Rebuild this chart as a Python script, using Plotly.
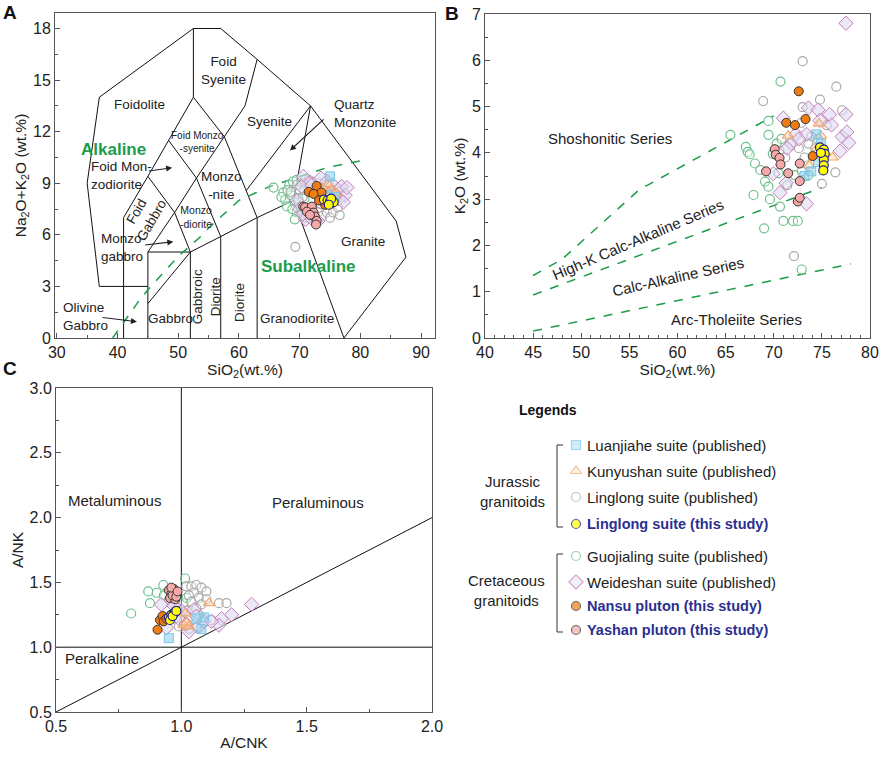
import plotly.graph_objects as go

W, H = 879, 759
FONT = "Arial, Liberation Sans, sans-serif"
TXT = "#222222"
GREEN = "#1a9c4a"
STUDY = "#2b2f8f"

# ---------------- Panel A : TAS (SiO2 vs Na2O+K2O) ----------------
tas_boundaries = [
    [(41, 0), (41, 3), (37, 3), (35, 9), (37, 14), (52.5, 18), (57, 18), (63, 16.2),
     (71.8, 13.5), (85.9, 6.8), (87.5, 4.7), (77.3, 0)],
    [(41, 3), (41, 7), (45, 9.4), (48.4, 11.5), (52.5, 14), (52.5, 18)],
    [(41, 3), (45, 3)],
    [(45, 0), (45, 5), (52, 5)],
    [(45, 2), (52, 5)],
    [(52, 0), (52, 5), (57, 5.9), (63, 7), (69, 8)],
    [(57, 0), (57, 5.9)],
    [(63, 0), (63, 7)],
    [(45, 9.4), (49.4, 7.3), (52, 5)],
    [(48.4, 11.5), (53, 9.3), (57, 5.9)],
    [(52.5, 14), (57.6, 11.7), (63, 7)],
    [(45, 5), (49.4, 7.3), (53, 9.3), (57.6, 11.7), (61, 13.5), (63, 16.2)],
    [(61.2, 8.57), (71.8, 13.5), (69, 8), (77.3, 0)],
]
irvine_sio2 = [39.2, 40, 43.2, 45, 48, 50, 53.7, 55, 60, 65, 74.4, 80]
irvine_alk = [0, 0.4, 2, 2.8, 4, 4.75, 5.9, 6.4, 8.0, 8.8, 9.9, 10.3]

# series values in panel A
guo_tas_sio2 = [65.7, 67.3, 67.6, 67.9, 68.3, 68.9, 69.5, 68.6, 69.2, 69.5, 69.2, 70.0, 70.3, 68.0, 68.8, 70.5, 70.8, 71.0, 69.8, 67.0]
guo_tas_alk = [8.75, 8.45, 8.05, 7.65, 8.9, 9.1, 9.2, 8.3, 7.9, 7.3, 6.9, 8.6, 7.6, 8.6, 7.5, 9.0, 8.1, 7.0, 8.1, 8.2]
llp_tas_sio2 = [68.5, 69.5, 70.5, 71.0, 72.5, 73.0, 73.8, 74.5, 75.0, 75.5, 76.6, 74.0, 73.3, 72.0, 76.0, 75.8, 74.5, 69.3, 71.5, 73.5, 70.8, 76.3]
llp_tas_alk = [8.5, 8.9, 8.2, 7.4, 7.0, 7.3, 7.1, 7.3, 7.0, 7.3, 7.15, 8.6, 9.0, 9.1, 8.0, 8.6, 8.9, 5.3, 9.2, 7.8, 8.6, 7.6]
wei_tas_sio2 = [70.6, 71.5, 69.5, 70.0, 70.3, 71.0, 72.0, 73.5, 74.5, 75.5, 76.3, 76.9, 77.5, 77.8, 76.5, 77.2, 75.8, 71.8, 73.0, 70.5]
wei_tas_alk = [9.4, 9.0, 8.0, 7.5, 8.8, 6.9, 8.9, 9.3, 9.1, 8.9, 8.6, 8.8, 8.3, 8.75, 8.1, 7.9, 8.3, 7.0, 6.8, 7.2]
kun_tas_sio2 = [74.7, 75.2, 73.8, 76.0]
kun_tas_alk = [8.95, 8.6, 8.7, 8.4]
lua_tas_sio2 = [75.0, 74.5, 75.8]
lua_tas_alk = [9.4, 8.3, 8.2]
yas_tas_sio2 = [70.6, 70.9, 72.0, 71.2, 72.3, 72.5, 72.8, 72.7, 71.7]
yas_tas_alk = [7.64, 7.6, 7.64, 7.35, 7.29, 7.06, 6.81, 6.6, 7.16]
nan_tas_sio2 = [71.5, 72.8, 73.6, 72.3, 74.2, 73.2]
nan_tas_alk = [8.5, 8.84, 8.46, 8.38, 7.74, 8.0]
llt_tas_sio2 = [74.0, 74.6, 75.0, 75.3, 75.6, 75.2, 74.8]
llt_tas_alk = [8.05, 8.0, 7.95, 7.85, 7.9, 8.1, 7.75]

# ---------------- Panel B : SiO2 vs K2O ----------------
shosho_sio2 = [45, 48, 56, 70]
shosho_k2o = [1.35, 1.7, 3.2, 4.8]
highk_sio2 = [45, 75]
highk_k2o = [0.93, 3.25]
calc_sio2 = [45, 78]
calc_k2o = [0.15, 1.6]

guo_b_sio2 = [65.5, 67.1, 67.3, 67.5, 68.05, 69.45, 69.45, 67.9, 69.1, 69.0, 69.45, 69.6, 70.7, 70.5, 70.65, 71.0, 72.0, 72.5, 72.9, 72.2, 68.6, 73.6, 69.9, 70.3, 70.8, 71.4]
guo_b_k2o = [4.39, 4.13, 4.02, 3.97, 3.77, 4.69, 4.39, 3.09, 3.38, 2.37, 3.27, 3.0, 5.54, 3.56, 2.84, 2.53, 2.53, 2.53, 1.48, 3.52, 3.63, 3.52, 3.98, 4.2, 4.3, 3.3]
llp_b_sio2 = [68.9, 73.0, 76.5, 74.8, 73.0, 72.1, 75.0, 76.4, 77.1, 72.85, 71.8, 73.9, 74.3, 73.2, 72.6, 71.2, 72.9, 74.6, 75.5, 70.6, 73.6]
llp_b_k2o = [5.12, 5.98, 5.43, 5.15, 4.99, 1.77, 3.33, 3.58, 4.92, 4.65, 4.2, 4.35, 4.1, 3.9, 4.1, 3.9, 3.6, 4.3, 4.6, 4.05, 4.2]
wei_b_sio2 = [77.5, 71.0, 73.6, 74.6, 75.8, 77.5, 77.1, 77.6, 77.8, 76.9, 71.8, 71.4, 72.3, 73.4, 70.65, 71.3, 73.4, 69.95, 74.8, 76.0, 72.6]
wei_b_k2o = [6.8, 4.75, 4.97, 4.93, 4.83, 4.83, 4.35, 4.45, 4.22, 4.04, 4.2, 4.1, 4.4, 4.4, 3.14, 3.35, 2.9, 3.55, 4.7, 4.6, 4.3]
kun_b_sio2 = [71.5, 74.7, 74.9, 76.1, 73.7, 74.5]
kun_b_k2o = [4.37, 4.63, 4.37, 3.9, 3.73, 4.1]
lua_b_sio2 = [74.4, 74.9, 73.2, 73.9, 74.6]
lua_b_k2o = [4.4, 4.2, 3.5, 3.6, 3.8]
yas_b_sio2 = [69.2, 70.1, 70.2, 70.6, 70.7, 71.5, 72.7, 72.7, 72.5, 72.7]
yas_b_k2o = [3.6, 4.08, 3.96, 3.89, 3.75, 3.56, 3.77, 3.39, 2.95, 3.03]
nan_b_sio2 = [72.6, 71.3, 72.2, 73.3, 74.05]
nan_b_k2o = [5.33, 4.65, 4.6, 4.73, 3.93]
llt_b_sio2 = [74.8, 75.2, 75.3, 75.2, 75.2, 75.15, 74.9]
llt_b_k2o = [4.12, 4.07, 3.98, 3.85, 3.73, 3.62, 4.0]

# ---------------- Panel C : A/CNK vs A/NK ----------------
guo_c_acnk = [0.80, 0.868, 0.928, 0.902, 0.875, 1.015, 1.008, 1.021, 0.95, 0.93]
guo_c_ank = [1.26, 1.43, 1.48, 1.42, 1.34, 1.53, 1.34, 1.38, 1.37, 1.40]
llp_c_acnk = [1.02, 1.04, 1.06, 1.08, 1.10, 1.05, 1.03, 1.07, 1.10, 1.04, 1.08, 1.15, 1.18, 1.06, 1.02, 1.12, 1.09, 1.06, 1.03, 1.07, 0.99, 1.01]
llp_c_ank = [1.47, 1.47, 1.48, 1.46, 1.43, 1.42, 1.40, 1.38, 1.37, 1.35, 1.33, 1.34, 1.34, 1.30, 1.28, 1.21, 1.19, 1.15, 1.14, 1.25, 1.16, 1.20]
wei_c_acnk = [1.28, 1.20, 1.16, 1.15, 1.05, 1.03, 0.94, 0.92, 0.96, 1.00, 1.07, 1.09, 1.06, 0.99, 1.02, 0.97, 1.12]
wei_c_ank = [1.33, 1.25, 1.22, 1.17, 1.29, 1.12, 1.15, 1.33, 1.36, 1.28, 1.16, 1.20, 1.24, 1.22, 1.18, 1.32, 1.20]
kun_c_acnk = [1.11, 1.015, 1.01, 1.03, 1.02]
kun_c_ank = [1.34, 1.26, 1.17, 1.16, 1.19]
lua_c_acnk = [0.95, 1.09, 1.06, 1.08]
lua_c_ank = [1.07, 1.23, 1.22, 1.14]
yas_c_acnk = [0.95, 0.97, 0.96, 0.98, 0.955, 0.975, 0.965, 0.98, 0.96, 0.985]
yas_c_ank = [1.44, 1.45, 1.41, 1.42, 1.38, 1.37, 1.40, 1.39, 1.46, 1.43]
nan_c_acnk = [0.915, 0.925, 0.93, 0.905, 0.94]
nan_c_ank = [1.21, 1.24, 1.20, 1.135, 1.22]
llt_c_acnk = [0.95, 0.96, 0.97, 0.975, 0.955, 0.965, 0.98]
llt_c_ank = [1.23, 1.25, 1.26, 1.27, 1.21, 1.24, 1.28]
acnk_boundaries = [[(1, 0.5), (1, 3.0)], [(0.5, 1), (2.0, 1)], [(0.5, 0.5), (2.0, 2.0)]]

# ---------------- series styles & legend ----------------
series_names = ["Luanjiahe suite (published)", "Kunyushan suite (published)",
                "Linglong suite (published)", "Linglong suite (this study)",
                "Guojialing suite (published)", "Weideshan suite (published)",
                "Nansu pluton (this study)", "Yashan pluton (this study)"]
styles = {
    "lua": dict(symbol="square", size=9, color="rgba(135,206,235,0.55)", line=dict(color="#79c6ea", width=1)),
    "kun": dict(symbol="triangle-up", size=10, color="rgba(250,205,160,0.35)", line=dict(color="#f3a868", width=1.2)),
    "llp": dict(symbol="circle", size=9, color="rgba(255,255,255,0.35)", line=dict(color="#a9a9a9", width=1.2)),
    "llt": dict(symbol="circle", size=9, color="#ffff00", line=dict(color="#1f1f8f", width=1.2)),
    "guo": dict(symbol="circle", size=9, color="rgba(255,255,255,0.3)", line=dict(color="#6cc08c", width=1.2)),
    "wei": dict(symbol="diamond", size=11, color="rgba(222,218,242,0.6)", line=dict(color="#c87db6", width=1)),
    "nan": dict(symbol="circle", size=9, color="#f07c12", line=dict(color="#333333", width=1)),
    "yas": dict(symbol="circle", size=9, color="#f5a9a9", line=dict(color="#333333", width=1)),
}
legend_keys = ["lua", "kun", "llp", "llt", "guo", "wei", "nan", "yas"]
legend_rows_px = [445, 471, 497, 524, 556, 582, 606, 630]
draw_order = ["guo", "llp", "wei", "kun", "lua", "yas", "nan", "llt"]

panelA = {"guo": (guo_tas_sio2, guo_tas_alk), "llp": (llp_tas_sio2, llp_tas_alk),
          "wei": (wei_tas_sio2, wei_tas_alk), "kun": (kun_tas_sio2, kun_tas_alk),
          "lua": (lua_tas_sio2, lua_tas_alk), "yas": (yas_tas_sio2, yas_tas_alk),
          "nan": (nan_tas_sio2, nan_tas_alk), "llt": (llt_tas_sio2, llt_tas_alk)}
panelB = {"guo": (guo_b_sio2, guo_b_k2o), "llp": (llp_b_sio2, llp_b_k2o),
          "wei": (wei_b_sio2, wei_b_k2o), "kun": (kun_b_sio2, kun_b_k2o),
          "lua": (lua_b_sio2, lua_b_k2o), "yas": (yas_b_sio2, yas_b_k2o),
          "nan": (nan_b_sio2, nan_b_k2o), "llt": (llt_b_sio2, llt_b_k2o)}
panelC = {"guo": (guo_c_acnk, guo_c_ank), "llp": (llp_c_acnk, llp_c_ank),
          "wei": (wei_c_acnk, wei_c_ank), "kun": (kun_c_acnk, kun_c_ank),
          "lua": (lua_c_acnk, lua_c_ank), "yas": (yas_c_acnk, yas_c_ank),
          "nan": (nan_c_acnk, nan_c_ank), "llt": (llt_c_acnk, llt_c_ank)}

fig = go.Figure()

def add_line(pts, xa, ya, **kw):
    fig.add_trace(go.Scatter(x=[p[0] for p in pts], y=[p[1] for p in pts], mode="lines",
                             line=kw.get("line", dict(color="#111111", width=1)),
                             xaxis=xa, yaxis=ya, hoverinfo="skip", showlegend=False))

# Panel A lines
for pts in tas_boundaries:
    add_line(pts, "x", "y")
add_line(list(zip(irvine_sio2, irvine_alk)), "x", "y",
         line=dict(color=GREEN, width=1.5, dash="dash"))
# Panel B lines
dl = dict(color=GREEN, width=1.5, dash="dash")
add_line(list(zip(shosho_sio2, shosho_k2o)), "x2", "y2", line=dl)
add_line(list(zip(highk_sio2, highk_k2o)), "x2", "y2", line=dl)
add_line(list(zip(calc_sio2, calc_k2o)), "x2", "y2", line=dl)
# Panel C lines
for pts in acnk_boundaries:
    add_line(pts, "x3", "y3")

# data points
for panel, xa, ya in [(panelA, "x", "y"), (panelB, "x2", "y2"), (panelC, "x3", "y3")]:
    for k in draw_order:
        xs, ys = panel[k]
        fig.add_trace(go.Scatter(x=xs, y=ys, mode="markers", marker=styles[k],
                                 xaxis=xa, yaxis=ya, name=series_names[legend_keys.index(k)],
                                 showlegend=False))

# legend markers on an overlay pixel axis
fig.add_trace(go.Scatter(
    x=[576] * len(legend_keys), y=legend_rows_px, mode="markers",
    marker=dict(symbol=[styles[k]["symbol"] for k in legend_keys],
                size=[styles[k]["size"] for k in legend_keys],
                color=[styles[k]["color"] for k in legend_keys],
                line=dict(color=[styles[k]["line"]["color"] for k in legend_keys], width=1.2)),
    xaxis="x4", yaxis="y4", showlegend=False, hoverinfo="skip"))

ann = []
def txt(x, y, s, xr="x", yr="y", size=13.5, color=TXT, bold=False, angle=0, xanchor="center", align="center"):
    if bold:
        s = "<b>" + s + "</b>"
    ann.append(dict(x=x, y=y, xref=xr, yref=yr, text=s, showarrow=False, textangle=angle,
                    font=dict(size=size, color=color, family=FONT), xanchor=xanchor, align=align))

def arrow(x0, y0, x1, y1):
    ann.append(dict(x=x1, y=y1, ax=x0, ay=y0, xref="x", yref="y", axref="x", ayref="y", text="",
                    font=dict(size=10), showarrow=True, arrowhead=2, arrowsize=1.1,
                    arrowwidth=1.1, arrowcolor="#222"))

# Panel A labels
txt(43.7, 13.6, "Foidolite")
txt(57.45, 15.56, "Foid<br>Syenite")
txt(65.1, 12.6, "Syenite")
txt(75.4, 13.08, "Quartz<br>Monzonite", xanchor="left", align="left")
txt(53.1, 11.4, "Foid Monzo<br>-syenite", size=10)
txt(39.35, 10.95, "Alkaline", size=17, color=GREEN, bold=True)
txt(35.3, 9.45, "Foid Mon-<br>zodiorite", xanchor="left", align="left")
txt(57.2, 8.85, "Monzo<br>-nite")
txt(52.85, 7.06, "Monzo<br>-diorite", size=10.5)
txt(44.5, 7.1, "Foid<br>Gabbro", angle=-60)
txt(37.0, 5.27, "Monzo-<br>gabbro", xanchor="left", align="left")
txt(30.75, 1.26, "Olivine<br>Gabbro", xanchor="left", align="left")
txt(48.7, 1.16, "Gabbro")
txt(54.7, 2.42, "Gabbroic<br>Diorite", angle=-90)
txt(60.2, 2.05, "Diorite", angle=-90)
txt(69.5, 1.16, "Granodiorite")
txt(80.5, 5.59, "Granite")
txt(71.45, 4.16, "Subalkaline", size=17, color=GREEN, bold=True)
arrow(44.9, 9.7, 49.0, 9.9)
arrow(44.3, 5.4, 49.2, 5.6)
arrow(37.3, 1.2, 43.2, 0.95)
arrow(74.2, 12.8, 68.4, 10.9)

# Panel B labels
txt(53.0, 4.31, "Shoshonitic Series", xr="x2", yr="y2", size=15)
txt(55.9, 2.12, "High-K Calc-Alkaline Series", xr="x2", yr="y2", size=15, angle=-23)
txt(60.1, 1.32, "Calc-Alkaline Series", xr="x2", yr="y2", size=15, angle=-12.5)
txt(66.15, 0.39, "Arc-Tholeiite Series", xr="x2", yr="y2", size=15)

# Panel C labels
txt(0.735, 2.13, "Metaluminous", xr="x3", yr="y3", size=15)
txt(1.546, 2.115, "Peraluminous", xr="x3", yr="y3", size=15)
txt(0.682, 0.914, "Peralkaline", xr="x3", yr="y3", size=15)

# panel letters
txt(10, 12, "A", xr="x4", yr="y4", size=19, color="#111", bold=True)
txt(452, 13, "B", xr="x4", yr="y4", size=19, color="#111", bold=True)
txt(10, 368, "C", xr="x4", yr="y4", size=19, color="#111", bold=True)

# legend texts
txt(548, 410, "Legends", xr="x4", yr="y4", size=14, color="#111", bold=True)
for k, ypx in zip(legend_keys, legend_rows_px):
    name = series_names[legend_keys.index(k)]
    study = "this study" in name
    txt(585, ypx, name, xr="x4", yr="y4", size=15 if not study else 14.5,
        color=STUDY if study else TXT, bold=study, xanchor="left")
txt(547, 491, "Jurassic<br>granitoids", xr="x4", yr="y4", size=15, xanchor="right", align="center")
txt(547, 590, "Cretaceous<br>granitoids", xr="x4", yr="y4", size=15, xanchor="right", align="center")

shapes = []
for y0, y1 in [(445, 527), (554, 632)]:
    for seg in [((563, y0), (557, y0)), ((557, y0), (557, y1)), ((557, y1), (563, y1))]:
        shapes.append(dict(type="line", xref="x4", yref="y4", x0=seg[0][0], y0=seg[0][1],
                           x1=seg[1][0], y1=seg[1][1], line=dict(color="#555", width=1.2)))

def ax_style(dom, rng, t0, dtick, mdtick, title, anchor, fmt=None):
    d = dict(domain=dom, range=rng, tick0=t0, dtick=dtick, automargin=False,
             showline=True, linecolor="#555", linewidth=1, mirror=True,
             ticks="inside", ticklen=5, tickcolor="#555", showgrid=False, zeroline=False,
             tickfont=dict(size=16, color=TXT, family=FONT),
             minor=dict(tick0=t0, dtick=mdtick, ticks="inside", ticklen=3, tickcolor="#555", showgrid=False),
             title=dict(text=title, font=dict(size=15.5, color=TXT, family=FONT), standoff=2),
             anchor=anchor)
    if fmt:
        d["tickformat"] = fmt
    return d

def px_dom_x(a, b):
    return [a / W, b / W]

def px_dom_y(top, bot):
    return [1 - bot / H, 1 - top / H]

xA = ax_style(px_dom_x(55, 435), [29.7, 92.3], 30, 10, 5, "SiO<sub>2</sub>(wt.%)", "y")
yA = ax_style(px_dom_y(13, 338), [0, 18.9], 0, 3, 1.5, "Na<sub>2</sub>O+K<sub>2</sub>O (wt.%)", "x")
xB = ax_style(px_dom_x(485, 870), [40, 80], 40, 5, 1, "SiO<sub>2</sub>(wt.%)", "y2")
yB = ax_style(px_dom_y(14, 338), [0, 7], 0, 1, 0.5, "K<sub>2</sub>O (wt.%)", "x2")
xC = ax_style(px_dom_x(56, 432), [0.5, 2.0], 0.5, 0.5, 0.25, "A/CNK", "y3", fmt=".1f")
yC = ax_style(px_dom_y(388, 712), [0.5, 3.0], 0.5, 0.5, 0.25, "A/NK", "x3", fmt=".1f")

fig.update_layout(
    width=W, height=H, margin=dict(l=0, r=0, t=0, b=0, autoexpand=False),
    paper_bgcolor="white", plot_bgcolor="rgba(0,0,0,0)",
    font=dict(family=FONT, color=TXT),
    xaxis=xA, yaxis=yA, xaxis2=xB, yaxis2=yB, xaxis3=xC, yaxis3=yC,
    xaxis4=dict(domain=[0, 1], range=[0, W], visible=False, anchor="y4", fixedrange=True, automargin=False),
    yaxis4=dict(domain=[0, 1], range=[H, 0], visible=False, anchor="x4", fixedrange=True, automargin=False),
    annotations=ann, shapes=shapes, showlegend=False,
)

fig.write_html("out.html", config={"displayModeBar": False},
               post_script="document.body.style.margin='0';document.body.style.overflow='hidden';")
